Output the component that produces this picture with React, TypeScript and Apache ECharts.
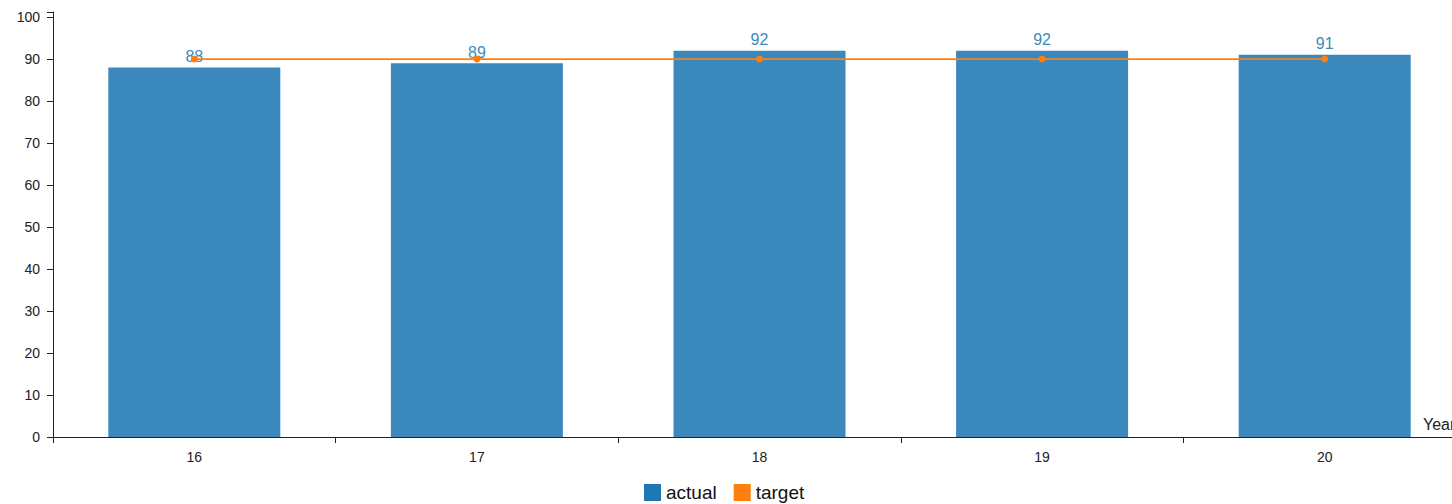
import React, { useEffect, useRef } from "react";
import * as echarts from "echarts";

const categories = ["16", "17", "18", "19", "20"];
const actualValues = [88, 89, 92, 92, 91];
const targetValues = [90, 90, 90, 90, 90];
const yTickInterval = 10;

export default function App() {
  const ref = useRef<HTMLDivElement>(null);
  useEffect(() => {
    if (!ref.current) return;
    const chart = echarts.init(ref.current, undefined, { renderer: "svg" });
    const font = "'Liberation Sans', Arial, sans-serif";
    chart.setOption({
      animation: false,
      textStyle: { fontFamily: font },
      grid: { left: 53, right: 0, top: 12, bottom: 67, containLabel: false },
      legend: {
        left: 644,
        top: 483,
        padding: 0,
        icon: "rect",
        itemWidth: 17,
        itemHeight: 17,
        itemGap: 17,
        textStyle: { fontSize: 19, color: "#111", fontFamily: font },
        data: [
          { name: "actual", itemStyle: { color: "#1f77b4" } },
          { name: "target", itemStyle: { color: "#ff7f0e" } },
        ],
      },
      xAxis: {
        type: "category",
        data: categories,
        name: "Year",
        nameLocation: "end",
        nameGap: -43,
        nameTextStyle: {
          fontSize: 16,
          color: "#222",
          verticalAlign: "bottom",
          padding: [0, 0, 5, 0],
          fontFamily: font,
        },
        axisLine: { lineStyle: { color: "#222", width: 1 } },
        axisTick: { show: true, length: 6, lineStyle: { color: "#222" } },
        axisLabel: { fontSize: 14, color: "#222", margin: 13, fontFamily: font },
        splitLine: { show: false },
      },
      yAxis: {
        type: "value",
        min: 0,
        max: 101.2,
        interval: yTickInterval,
        axisLine: { show: true, lineStyle: { color: "#222", width: 1 } },
        axisTick: { show: true, length: 6, lineStyle: { color: "#222" } },
        axisLabel: {
          fontSize: 14,
          color: "#222",
          margin: 13,
          fontFamily: font,
          formatter: (v: number) => (v % yTickInterval === 0 ? String(v) : ""),
        },
        splitLine: { show: false },
      },
      series: [
        {
          name: "actual",
          type: "bar",
          data: actualValues,
          barWidth: 172,
          itemStyle: { color: "#3b88bc" },
          label: {
            show: true,
            position: "top",
            distance: 3,
            fontSize: 16,
            color: "#3d8ac0",
            fontFamily: font,
          },
          z: 2,
        },
        {
          name: "target",
          type: "line",
          data: targetValues,
          symbol: "circle",
          symbolSize: 7,
          itemStyle: { color: "#ff7f0e" },
          lineStyle: { color: "#ff7f0e", width: 1.8 },
          z: 3,
        },
      ],
    });
    return () => chart.dispose();
  }, []);
  return (
    <div
      style={{
        position: "absolute",
        left: 0,
        top: 0,
        width: 1452,
        height: 504,
        overflow: "hidden",
      }}
    >
      <div ref={ref} style={{ width: 1466, height: 504 }} />
    </div>
  );
}
